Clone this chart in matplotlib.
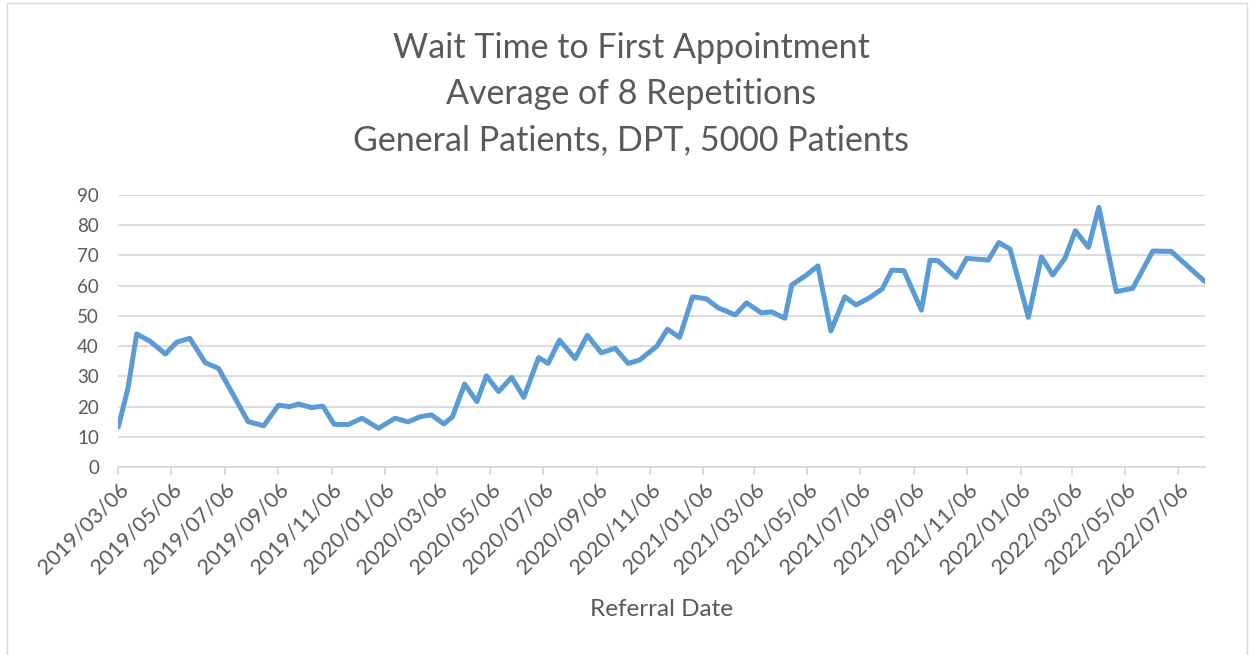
import matplotlib
matplotlib.use("Agg")

import matplotlib.dates as mdates
import matplotlib.pyplot as plt
import pandas as pd
from matplotlib.patches import Rectangle

# data
START_DATE = "2019-03-06"
referral_day = [
    0, 11, 21, 37, 54, 67, 82, 100, 115, 149,
    167, 184, 197, 207, 222, 235, 248, 264, 280, 299,
    318, 333, 347, 360, 374, 384, 398, 412, 423, 437,
    452, 466, 483, 494, 507, 525, 539, 555, 571, 586,
    599, 619, 631, 645, 660, 676, 689, 709, 722, 739,
    751, 766, 774, 791, 804, 819, 835, 848, 864, 878,
    889, 903, 923, 933, 942, 963, 975, 1000, 1012, 1025,
    1046, 1061, 1074, 1088, 1100, 1115, 1127, 1147, 1166, 1189,
    1210, 1249,
]
wait_time = [
    13.4, 26.1, 44.0, 41.5, 37.4, 41.3, 42.6, 34.5, 32.7, 15.1,
    13.7, 20.5, 20.0, 20.9, 19.7, 20.2, 14.2, 14.1, 16.2, 12.9,
    16.2, 15.0, 16.7, 17.3, 14.3, 16.7, 27.5, 21.7, 30.2, 25.0,
    29.7, 23.1, 36.2, 34.3, 42.0, 35.9, 43.6, 37.8, 39.3, 34.3,
    35.4, 40.0, 45.6, 42.9, 56.3, 55.6, 52.7, 50.3, 54.3, 51.0,
    51.3, 49.2, 60.2, 63.5, 66.5, 45.0, 56.3, 53.6, 56.1, 58.9,
    65.1, 64.9, 51.9, 68.4, 68.2, 62.7, 69.0, 68.4, 74.2, 72.0,
    49.5, 69.5, 63.5, 69.0, 78.1, 72.6, 85.8, 58.0, 59.1, 71.4,
    71.3, 61.3,
]
# major ticks every two months on the 6th
tick_dates = pd.date_range("2019-03-01", "2022-07-01", freq="2MS") + pd.Timedelta(days=5)
y_ticks = list(range(0, 100, 10))

TITLE_LINES = [
    "Wait Time to First Appointment",
    "Average of 8 Repetitions",
    "General Patients, DPT, 5000 Patients",
]

TEXT_COLOR = "#595959"
GRID_COLOR = "#D9D9D9"
LINE_COLOR = "#5B9BD5"

plt.rcParams["font.family"] = ["Lato", "DejaVu Sans"]

dates = pd.Timestamp(START_DATE) + pd.to_timedelta(referral_day, unit="D")

W, H = 1253, 655
fig = plt.figure(figsize=(W / 100, H / 100), dpi=100)
ax = fig.add_axes([118.4 / W, 1 - 467.3 / H, (1205 - 118.4) / W, (467.3 - 194.7) / H])

ax.plot(dates, wait_time, color=LINE_COLOR, linewidth=3.6,
        solid_joinstyle="round", solid_capstyle="round", zorder=3)

ax.set_xlim(pd.Timestamp(START_DATE), dates[-1])
ax.set_ylim(0, 90)
ax.set_yticks(y_ticks)
ax.set_xticks(tick_dates)
ax.xaxis.set_major_formatter(mdates.DateFormatter("%Y/%m/%d"))

ax.grid(axis="y", color=GRID_COLOR, linewidth=1.3, zorder=0)
for side in ["left", "right", "top"]:
    ax.spines[side].set_visible(False)
ax.spines["bottom"].set_color(GRID_COLOR)
ax.spines["bottom"].set_linewidth(1.3)

ax.tick_params(axis="y", length=0, pad=14, labelsize=13.5, labelcolor=TEXT_COLOR)
ax.tick_params(axis="x", length=6, width=1.3, color=GRID_COLOR, direction="out",
               labelsize=15.5, labelcolor=TEXT_COLOR, pad=3)
for label in ax.get_xticklabels():
    label.set_rotation(45)
    label.set_ha("right")
    label.set_va("top")
    label.set_rotation_mode("anchor")

fig.text(661 / W, 1 - 610 / H, "Referral Date", ha="center", va="center",
         fontsize=17.5, color=TEXT_COLOR)

for i, line in enumerate(TITLE_LINES):
    fig.text(631 / W, 1 - (48 + 46 * i) / H, line, ha="center", va="center",
             fontsize=24.5, color=TEXT_COLOR)

fig.patches.append(Rectangle((7 / W, -0.01), (1247 - 7) / W, 1 - 3 / H + 0.01,
                             transform=fig.transFigure, fill=False,
                             edgecolor=GRID_COLOR, linewidth=1.0))

fig.savefig("out.png", dpi=100)
plt.close(fig)
